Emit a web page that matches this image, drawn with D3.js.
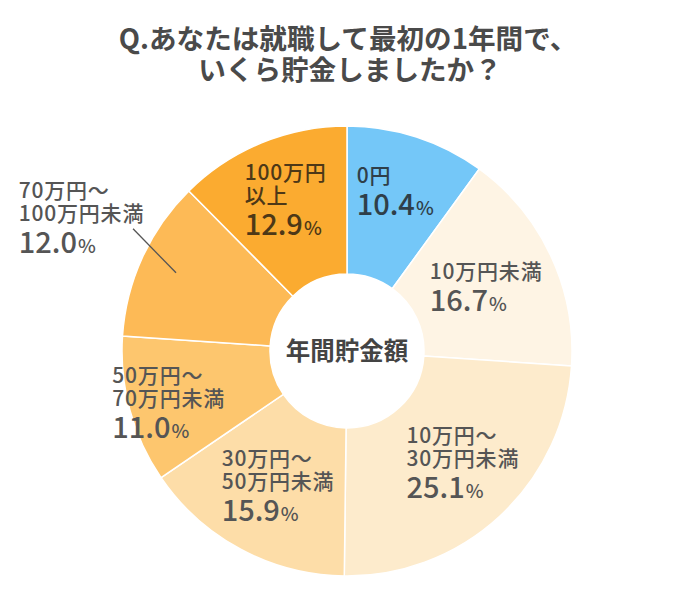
<!DOCTYPE html>
<html><head><meta charset="utf-8">
<script src="https://cdn.jsdelivr.net/npm/d3@7"></script>
<style>
html,body{margin:0;padding:0;background:#fff;}
text{font-family:"Noto Sans CJK JP","Noto Sans",sans-serif;}
</style></head>
<body>
<svg id="chart" width="700" height="610"></svg>
<script>
// ---- data ----
const titleLines = ["Q.あなたは就職して最初の1年間で、", "いくら貯金しましたか？"];
const centerLabel = "年間貯金額";
const categories = [
  ["0円"],
  ["10万円未満"],
  ["10万円～", "30万円未満"],
  ["30万円～", "50万円未満"],
  ["50万円～", "70万円未満"],
  ["70万円～", "100万円未満"],
  ["100万円", "以上"]
];
const values = [10.4, 16.7, 25.1, 15.9, 11.0, 12.0, 12.9];

// ---- styles / layout ----
const colors = ["#74C7F8", "#FEF4E4", "#FDEBCC", "#FDDDA8", "#FDC66E", "#FDBA56", "#FBAB30"];
const textColors = ["#2f3f4a", "#555555", "#555555", "#555555", "#555555", "#555555", "#4d3817"];
const labelOffsets = [[-37,-24],[-54,-8],[-43,-19],[-54,-18],[-89,-8],[-191,-90],[-45,-31]];
const leader = {index: 5, r: 188, dx: -43, dy: -44};

const svg = d3.select("#chart");
const cx = 347, cy = 351, R = 225, r0 = 77;

// title
const title = svg.append("text").attr("text-anchor", "middle")
  .attr("fill", "#4a4a4a").attr("font-size", 27.6).attr("font-weight", 700);
titleLines.forEach((t, i) => title.append("tspan").attr("x", 348 + i * 2).attr("y", 49 + i * 31).text(t));

const g = svg.append("g").attr("transform", `translate(${cx},${cy})`);
const pie = d3.pie().sort(null).value(d => d);
const arcs = pie(values);
const arc = d3.arc().innerRadius(r0).outerRadius(R);
const mid = d3.arc().innerRadius(151).outerRadius(151);

g.selectAll("path.slice").data(arcs).join("path")
  .attr("class", "slice")
  .attr("d", arc)
  .attr("fill", (d, i) => colors[i])
  .attr("stroke", "#fff").attr("stroke-width", 1.5);

// center label
g.append("text").attr("text-anchor", "middle").attr("y", 9)
  .attr("font-size", 24.5).attr("font-weight", 700).attr("fill", "#444")
  .text(centerLabel);

// leader line
{
  const d = arcs[leader.index];
  const a = (d.startAngle + d.endAngle) / 2;
  const x1 = leader.r * Math.sin(a), y1 = -leader.r * Math.cos(a);
  g.append("line").attr("x1", x1).attr("y1", y1)
    .attr("x2", x1 + leader.dx).attr("y2", y1 + leader.dy)
    .attr("stroke", "#555").attr("stroke-width", 1.3);
}

// labels
arcs.forEach((d, i) => {
  const c = mid.centroid(d);
  const x = c[0] + labelOffsets[i][0];
  const y = c[1] + labelOffsets[i][1];
  const lines = categories[i];
  const t = g.append("text").attr("fill", textColors[i]).attr("font-weight", 500)
    .attr("letter-spacing", 0.8);
  lines.forEach((ln, k) => {
    t.append("tspan").attr("x", x).attr("y", y + k * 23).attr("font-size", 21).text(ln);
  });
  const py = y + (lines.length - 1) * 23 + 32;
  const p = g.append("text").attr("x", x).attr("y", py).attr("fill", textColors[i]).attr("font-weight", 500);
  p.append("tspan").attr("font-size", 29).text(d3.format(".1f")(values[i]));
  p.append("tspan").attr("font-size", 19).attr("dx", 1).text("%");
});
</script>
</body></html>
